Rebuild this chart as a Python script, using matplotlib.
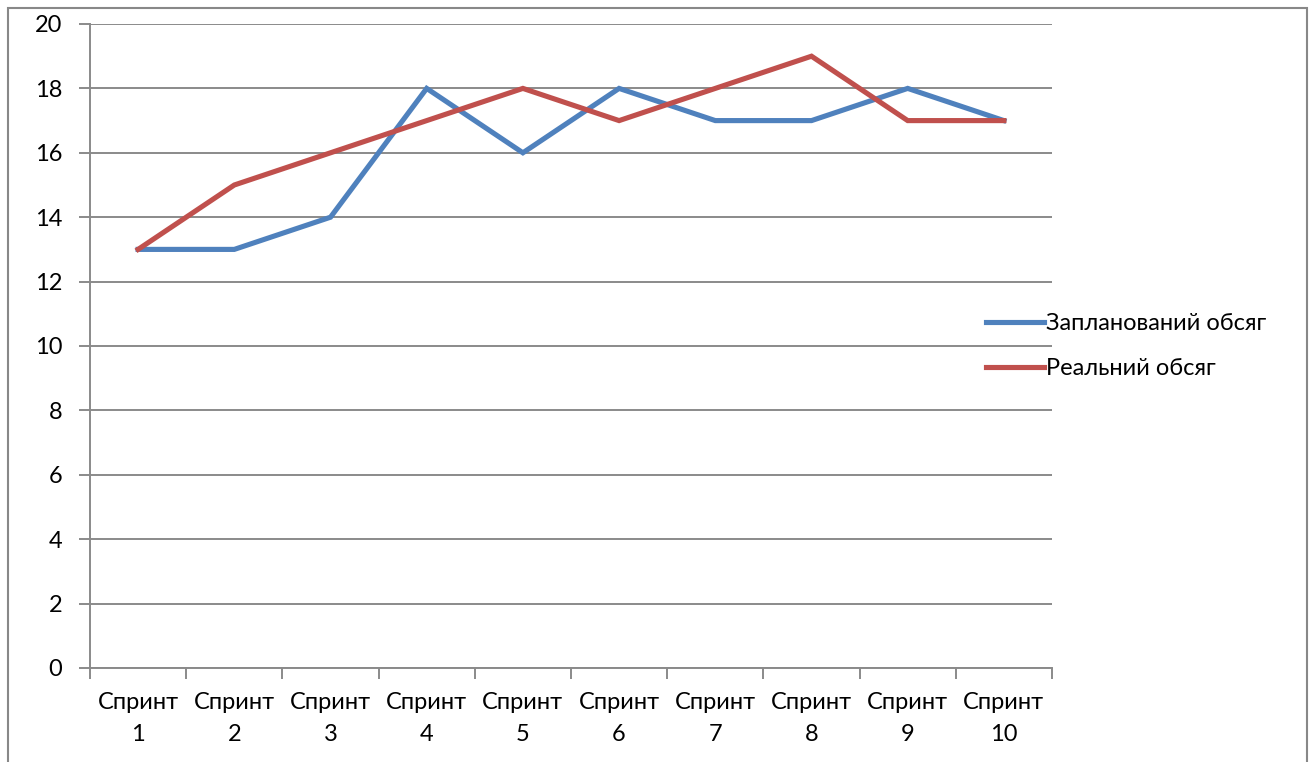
import matplotlib
matplotlib.use('Agg')
import matplotlib.pyplot as plt
from matplotlib.patches import Rectangle

sprints = ['Спринт\n1', 'Спринт\n2', 'Спринт\n3', 'Спринт\n4', 'Спринт\n5',
           'Спринт\n6', 'Спринт\n7', 'Спринт\n8', 'Спринт\n9', 'Спринт\n10']
planned = [13, 13, 14, 18, 16, 18, 17, 17, 18, 17]
real = [13, 15, 16, 17, 18, 17, 18, 19, 17, 17]
names = ['Запланований обсяг', 'Реальний обсяг']

plt.rcParams['font.family'] = ['Lato', 'DejaVu Sans']
plt.rcParams['font.size'] = 17

W, H = 1312, 762
fig = plt.figure(figsize=(W/100, H/100), dpi=100)
ax = fig.add_axes([90/W, 1 - 668/H, (1052-90)/W, (668-24)/H])

# outer chart frame
fig.patches.append(Rectangle((8/W, -0.1), (1307-8)/W, 1.1 - 8/H,
                             transform=fig.transFigure, fill=False,
                             edgecolor='#888888', linewidth=1.5))

x = range(len(sprints))
ax.plot(x, planned, color='#4F81BD', lw=3.7, solid_joinstyle='miter', label=names[0])
ax.plot(x, real, color='#C0504D', lw=3.7, solid_joinstyle='miter', label=names[1])

ax.set_xlim(-0.5, len(sprints) - 0.5)
ax.set_ylim(0, 20)
ax.set_yticks(range(0, 21, 2))
ax.yaxis.grid(True, color='#8a8a8a', lw=1.4)
ax.set_axisbelow(True)

ax.set_xticks(list(x))
ax.set_xticklabels(sprints, linespacing=1.65)
ax.set_xticks([i - 0.5 for i in range(len(sprints) + 1)], minor=True)
ax.tick_params(axis='x', which='major', length=0, pad=17)
ax.tick_params(axis='x', which='minor', length=8, width=1.4, color='#8a8a8a', direction='out')
ax.tick_params(axis='y', length=8, width=1.4, color='#8a8a8a', direction='out', pad=12)

for s in ['top', 'right']:
    ax.spines[s].set_visible(False)
for s in ['left', 'bottom']:
    ax.spines[s].set_color('#8a8a8a')
    ax.spines[s].set_linewidth(1.4)

fig.legend(loc='center left', bbox_to_anchor=(977/W, 1 - 346/H), frameon=False,
           handlelength=2.45, handletextpad=0.08, labelspacing=1.0, borderaxespad=0)

fig.savefig('out.png', dpi=100)
